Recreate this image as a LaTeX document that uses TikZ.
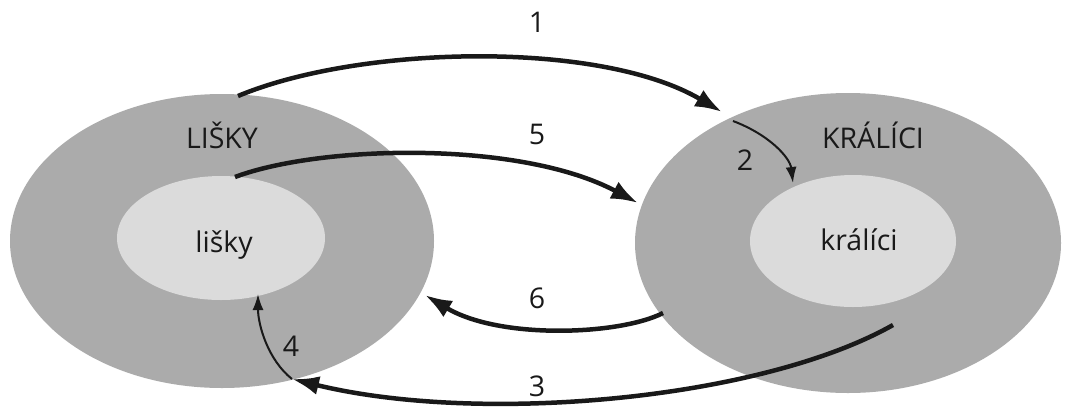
\documentclass[tikz,border=0pt]{standalone}
\usepackage{fontspec}
\setmainfont{Open Sans}
\usetikzlibrary{arrows.meta,shapes.geometric}

\definecolor{outergray}{gray}{0.67}
\definecolor{innergray}{gray}{0.86}
\definecolor{ink}{gray}{0.1}

\begin{document}
\begin{tikzpicture}[
    x=1pt, y=-1pt,
    outerell/.style={ellipse, fill=outergray, inner sep=0pt},
    innerell/.style={ellipse, fill=innergray, inner sep=0pt},
    lbl/.style={font=\fontsize{28.5}{32}\selectfont, anchor=base, inner sep=0pt, text=ink},
    flow/.style={draw=ink, line width=4.5pt, -{Latex[length=27pt,width=19pt]}},
    thinflow/.style={draw=ink, line width=2pt, -{Latex[length=16pt,width=11pt]}}
]
\useasboundingbox[fill=white] (0,0) rectangle (1078,408);

% populations
\node[outerell, minimum width=424pt, minimum height=294pt] (foxout) at (222,241) {};
\node[innerell, minimum width=208pt, minimum height=124pt] (foxin) at (221,238) {};
\node[outerell, minimum width=426pt, minimum height=300pt] (rabout) at (848,243) {};
\node[innerell, minimum width=206pt, minimum height=132pt] (rabin) at (853,241) {};

\node[lbl] (foxcap) at (222,148) {LIŠKY};
\node[lbl] (foxsmall) at (224,252) {lišky};
\node[lbl] (rabcap) at (873,148) {KRÁLÍCI};
\node[lbl] (rabsmall) at (859,250) {králíci};

% flow labels
\node[lbl] (n1) at (537,32) {1};
\node[lbl] (n2) at (745,170) {2};
\node[lbl] (n3) at (537,396) {3};
\node[lbl] (n4) at (291,356) {4};
\node[lbl] (n5) at (537,144) {5};
\node[lbl] (n6) at (537,308) {6};

% ends of the flows
\coordinate (foxtop) at (238,96);
\coordinate (foxmid) at (235,177);
\coordinate (foxright) at (425,295);
\coordinate (foxbottom) at (292,379);
\coordinate (foxinner) at (258,294);
\coordinate (rabtop) at (722,112);
\coordinate (rableft) at (638,203);
\coordinate (rabinner) at (793,183);
\coordinate (rabedge) at (733,121);
\coordinate (rablow) at (663,313);
\coordinate (rabin3) at (893,325);

\draw[flow] (foxtop) .. controls (360,45) and (600,40) .. (rabtop);
\draw[thinflow] (rabedge) .. controls (770,135) and (790,158) .. (rabinner);
\draw[flow] (rabin3) .. controls (760,400) and (480,425) .. (foxbottom);
\draw[thinflow] (foxbottom) .. controls (268,360) and (258,325) .. (foxinner);
\draw[flow] (foxmid) .. controls (320,145) and (520,140) .. (rableft);
\draw[flow] (rablow) .. controls (620,335) and (500,340) .. (foxright);
\end{tikzpicture}
\end{document}
